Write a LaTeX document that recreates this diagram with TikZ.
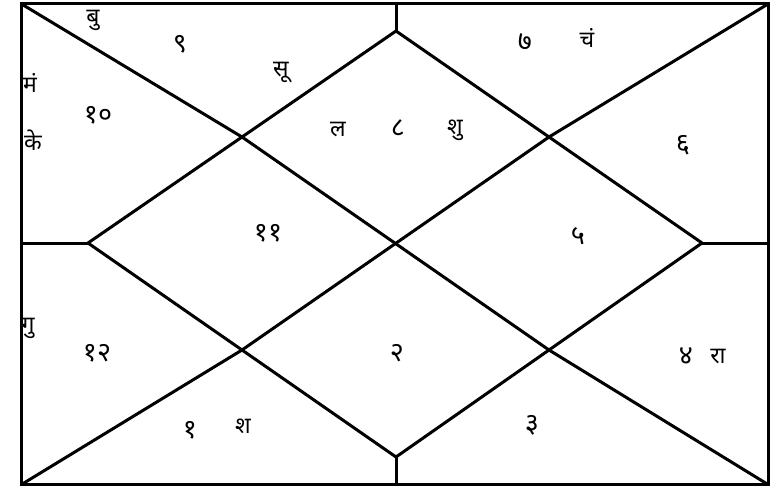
\documentclass[tikz,border=0pt]{standalone}
\usepackage{fontspec}
\usetikzlibrary{calc}
\newfontfamily\deva[Script=Devanagari]{Noto Sans}
\begin{document}
\begin{tikzpicture}[x=1pt,y=-1pt,
  chartline/.style={line width=3pt,line join=miter},
  lbl/.style={inner sep=0pt,font=\deva\fontsize{23}{27}\selectfont},
  num/.style={inner sep=0pt,font=\deva\fontsize{27}{31}\selectfont}]
\useasboundingbox (0,0) rectangle (781,489);
% frame corners
\coordinate (TL) at (21.5,4);
\coordinate (TR) at (768,4);
\coordinate (BR) at (768,484.5);
\coordinate (BL) at (21.5,484.5);
% edge midpoints
\coordinate (MT) at (396,4);
\coordinate (MB) at (396,484.5);
\coordinate (ML) at (21.5,243);
\coordinate (MR) at (768,243);
% diamond
\coordinate (DT) at (396,31);
\coordinate (DB) at (396,457);
\coordinate (DL) at (88,243);
\coordinate (DR) at (702,243);
% diamond edge midpoints
\coordinate (QTL) at ($(DT)!0.5!(DL)$);
\coordinate (QTR) at ($(DT)!0.5!(DR)$);
\coordinate (QBL) at ($(DB)!0.5!(DL)$);
\coordinate (QBR) at ($(DB)!0.5!(DR)$);
\draw[chartline] (TL) rectangle (BR);
\draw[chartline] (DT) -- (DR) -- (DB) -- (DL) -- cycle;
\draw[chartline] (MT) -- (DT);
\draw[chartline] (MB) -- (DB);
\draw[chartline] (ML) -- (DL);
\draw[chartline] (MR) -- (DR);
\draw[chartline] (TL) -- (QTL) -- (QBR) -- (BR);
\draw[chartline] (TR) -- (QTR) -- (QBL) -- (BL);
% labels
\node[lbl] (bu) at (93,20) {बु};
\node[num] (h9) at (180,44) {९};
\node[lbl] (su) at (281,72) {सू};
\node[lbl] (ma) at (30,83) {मं};
\node[num] (h10) at (98,115) {१०};
\node[lbl] (ke) at (33,140) {के};
\node[lbl] (la) at (338,130) {ल};
\node[num] (h8) at (398,128) {८};
\node[lbl] (shu) at (455,130) {शु};
\node[num] (h7) at (525,42) {७};
\node[lbl] (cha) at (587,38) {चं};
\node[num] (h6) at (683,145) {६};
\node[num] (h11) at (268,233) {११};
\node[num] (h5) at (578,236) {५};
\node[lbl] (gu) at (28,328) {गु};
\node[num] (h12) at (97,353) {१२};
\node[num] (h2) at (397,353) {२};
\node[num] (h4) at (686,356) {४};
\node[lbl] (ra) at (718,356) {रा};
\node[num] (h1) at (190,430) {१};
\node[lbl] (sha) at (243,426) {श};
\node[num] (h3) at (532,425) {३};
\end{tikzpicture}
\end{document}
